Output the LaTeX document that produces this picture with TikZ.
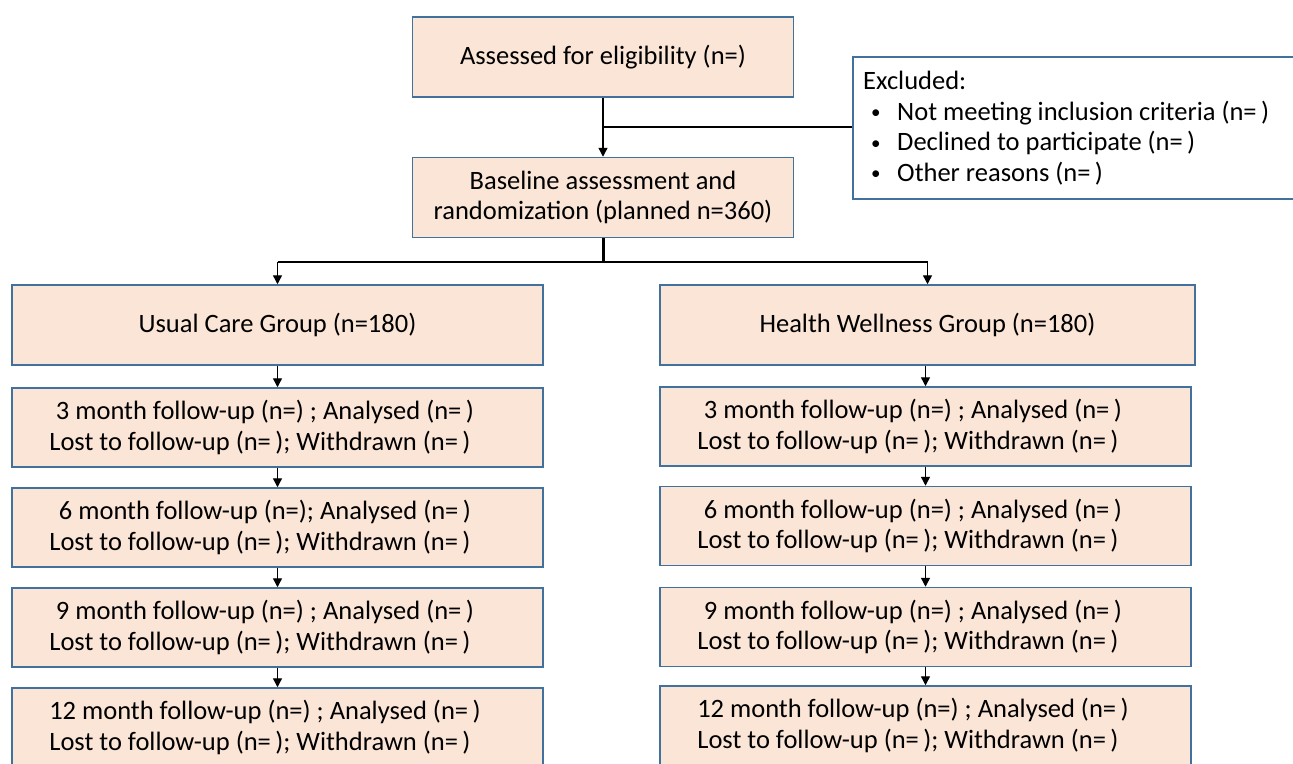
\documentclass[tikz,border=0pt]{standalone}
\usepackage{fontspec}
\setmainfont{Carlito}
\usetikzlibrary{arrows.meta}
\definecolor{boxfill}{HTML}{FBE5D6}
\definecolor{boxdraw}{HTML}{41719C}
\newcommand{\mybul}{\hspace*{8pt}\makebox[26pt][l]{\raisebox{1.5pt}{\fontsize{19}{19}\selectfont •}}}
\newcommand{\la}{\hspace*{25pt}}
\newcommand{\lb}{\hspace*{35pt}}
\begin{document}
\begin{tikzpicture}[x=1pt,y=-1pt,
  txt/.style={font=\fontsize{26.5}{30.5}\selectfont},
  box/.style={draw=boxdraw, fill=boxfill, line width=1.5pt, inner sep=0pt, align=center, txt},
  exclbox/.style={draw=boxdraw, fill=white, line width=1.5pt, inner sep=0pt, anchor=west},
  lbox/.style={box, minimum width=531pt, minimum height=79pt},
  rbox/.style={box, minimum width=531pt, minimum height=79pt},
  conn/.style={line width=1.4pt, -{Triangle[length=9pt,width=9pt]}},
  plain/.style={line width=1.4pt},
  thick line/.style={line width=3pt},
  ]
\useasboundingbox (0,0) rectangle (1293,763);
\clip (0,0) rectangle (1293,763);
\fill[white] (0,0) rectangle (1293,763);

\node[box, minimum width=381pt, minimum height=80pt] (assess) at (603,57) {Assessed for eligibility (n=)};
\node[box, minimum width=381pt, minimum height=80pt] (base) at (603,197.5) {Baseline assessment and\\randomization (planned n=360)};
\node[exclbox, minimum width=460pt, minimum height=142pt] (excl) at (852,128) {};
\node[txt, anchor=west, align=left, inner sep=0pt] (excltext) at ([xshift=11pt]excl.west)
  {Excluded:\\
   \mybul Not meeting inclusion criteria (n=\,)\\
   \mybul Declined to participate (n=\,)\\
   \mybul Other reasons (n=\,)};

\node[lbox, minimum height=80pt] (usual) at (277.5,325) {Usual Care Group (n=180)};
\node[lbox] (f3l) at (277.5,427.5) {3 month follow-up (n=) ; Analysed (n=\,)\la\\Lost to follow-up (n=\,); Withdrawn (n=\,)\lb};
\node[lbox] (f6l) at (277.5,527.5) {6 month follow-up (n=); Analysed (n=\,)\la\\Lost to follow-up (n=\,); Withdrawn (n=\,)\lb};
\node[lbox] (f9l) at (277.5,627.5) {9 month follow-up (n=) ; Analysed (n=\,)\la\\Lost to follow-up (n=\,); Withdrawn (n=\,)\lb};
\node[lbox] (f12l) at (277.5,727.5) {12 month follow-up (n=) ; Analysed (n=\,)\la\\Lost to follow-up (n=\,); Withdrawn (n=\,)\lb};

\node[rbox, minimum width=535pt, minimum height=80pt] (hw) at (927.5,325) {Health Wellness Group (n=180)};
\node[rbox] (f3r) at (925.5,426.5) {3 month follow-up (n=) ; Analysed (n=\,)\la\\Lost to follow-up (n=\,); Withdrawn (n=\,)\lb};
\node[rbox] (f6r) at (925.5,526) {6 month follow-up (n=) ; Analysed (n=\,)\la\\Lost to follow-up (n=\,); Withdrawn (n=\,)\lb};
\node[rbox] (f9r) at (925.5,627) {9 month follow-up (n=) ; Analysed (n=\,)\la\\Lost to follow-up (n=\,); Withdrawn (n=\,)\lb};
\node[rbox] (f12r) at (925.5,725.5) {12 month follow-up (n=) ; Analysed (n=\,)\la\\Lost to follow-up (n=\,); Withdrawn (n=\,)\lb};

% top connectors
\draw[conn] (assess.south) -- (base.north);
\coordinate (j1) at (603,127);
\draw[plain] (j1) -- (j1 -| excl.west);
% split
\coordinate (j2) at (603,262);
\draw[thick line] (base.south) -- (j2);
\draw[plain] (j2 -| usual.north) -- (j2 -| hw.north);
\draw[conn] (j2 -| usual.north) -- (usual.north);
\draw[conn] (j2 -| hw.north) -- (hw.north);
% left column
\draw[conn] (usual.south) -- (f3l.north);
\draw[conn] (f3l.south) -- (f6l.north);
\draw[conn] (f6l.south) -- (f9l.north);
\draw[conn] (f9l.south) -- (f12l.north);
% right column
\draw[conn] (f3r.north |- hw.south) -- (f3r.north);
\draw[conn] (f3r.south) -- (f6r.north);
\draw[conn] (f6r.south) -- (f9r.north);
\draw[conn] (f9r.south) -- (f12r.north);
\end{tikzpicture}
\end{document}
